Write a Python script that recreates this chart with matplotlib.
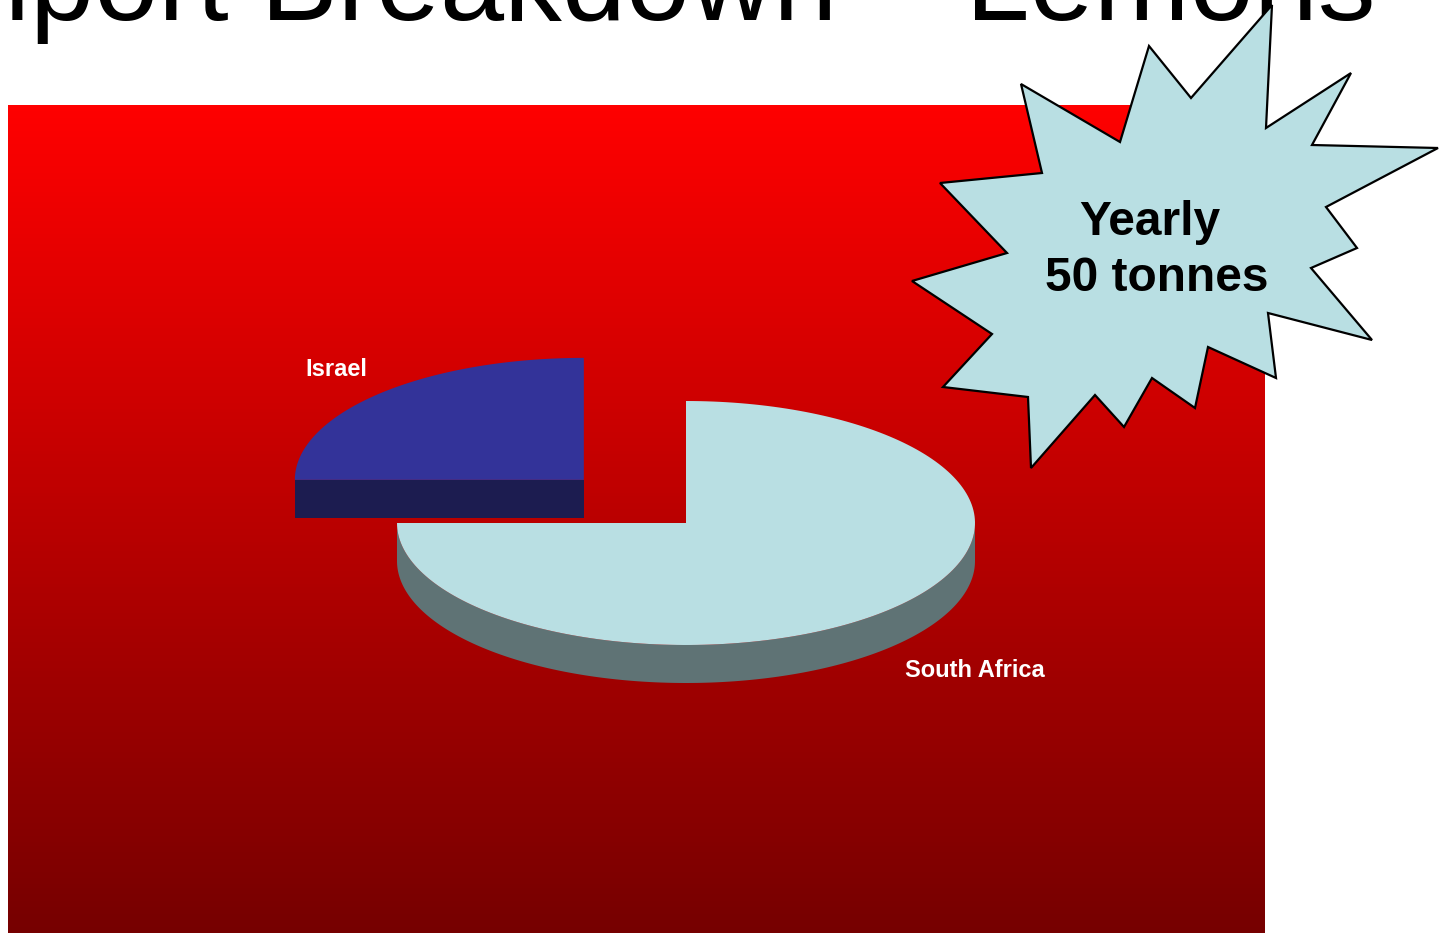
import numpy as np
import matplotlib
matplotlib.use("Agg")
import matplotlib.pyplot as plt
from matplotlib.patches import Polygon

# data
countries = ["South Africa", "Israel"]
shares = [75, 25]
top_colors = ["#B9DFE3", "#333399"]
side_colors = ["#5F7375", "#1C1C50"]
explode = [0.0, 0.5]

title = "Import Breakdown \u2013 Lemons"
burst_text = ["Yearly", "50 tonnes"]

# starburst outline (pixel coords of the slide)
burst_x = [1272, 1266, 1351, 1312, 1438, 1326, 1357, 1311, 1372, 1268, 1276, 1208,
           1195, 1152, 1124, 1095, 1031, 1028, 943, 992, 912, 1007, 940, 1042,
           1021, 1120, 1149, 1191]
burst_y = [5, 128, 73, 145, 148, 207, 248, 268, 340, 313, 378, 347,
           408, 378, 427, 395, 468, 397, 387, 334, 281, 253, 183, 173,
           84, 142, 46, 98]

W, H = 1441, 933
font = "Liberation Sans"

fig = plt.figure(figsize=(W / 100, H / 100), dpi=100)
ax = fig.add_axes([0, 0, 1, 1])

# red gradient plot area
grad = np.linspace(0, 1, 256)[:, None]
top_rgb = np.array([1.0, 0.0, 0.0])
bot_rgb = np.array([118 / 255, 0.0, 0.0])
img = top_rgb[None, None, :] * (1 - grad[:, :, None]) + bot_rgb[None, None, :] * grad[:, :, None]
ax.imshow(img, extent=(8, 1265, 933, 105), aspect="auto", zorder=0)

# 3d pie, slices go clockwise from 12 o'clock
cx, cy = 686, 523
rx, ry = 289, 122
depth = 38


def pt(x0, y0, t):
    return x0 + rx * np.cos(t), y0 - ry * np.sin(t)


angles = []
start = 90.0
for v in shares:
    sweep = 360.0 * v / sum(shares)
    angles.append((start - sweep, start))
    start -= sweep

# draw back slices first (higher on screen)
order = sorted(range(len(shares)), key=lambda i: -np.sin(np.radians(sum(angles[i]) / 2)) * explode[i])
for i in order:
    a1, a2 = angles[i]
    mid = np.radians((a1 + a2) / 2)
    ox = cx + explode[i] * rx * np.cos(mid)
    oy = cy - explode[i] * ry * np.sin(mid)
    t = np.radians(np.linspace(a1, a2, 200))
    xs, ys = pt(ox, oy, t)

    # flat cut faces facing the viewer
    for a, nrm in [(a1, a1 - 90), (a2, a2 + 90)]:
        if np.sin(np.radians(nrm)) < -1e-6:
            ex, ey = pt(ox, oy, np.radians(a))
            face = [(ox, oy), (ex, ey), (ex, ey + depth), (ox, oy + depth)]
            ax.add_patch(Polygon(face, closed=True, fc=side_colors[i], ec="none", zorder=2))

    # curved front side
    lo, hi = max(a1, -180), min(a2, 0)
    if hi > lo:
        ts = np.radians(np.linspace(lo, hi, 200))
        sx, sy = pt(ox, oy, ts)
        poly = list(zip(sx, sy)) + list(zip(sx[::-1], sy[::-1] + depth))
        ax.add_patch(Polygon(poly, closed=True, fc=side_colors[i], ec="none", zorder=2))

    top = [(ox, oy)] + list(zip(xs, ys))
    ax.add_patch(Polygon(top, closed=True, fc=top_colors[i], ec="none", zorder=3))

# slice labels
ax.text(905, 677, countries[0], color="white", fontsize=17, fontweight="bold",
        family=font, va="baseline", ha="left", zorder=4)
ax.text(305, 376, countries[1], color="white", fontsize=17, fontweight="bold",
        family=font, va="baseline", ha="left", zorder=4)

# title, mostly off the top of the slide
ax.text(1376, 20, title, fontsize=83, family=font, color="black",
        ha="right", va="baseline", zorder=1)

# starburst callout
ax.add_patch(Polygon(list(zip(burst_x, burst_y)), closed=True, fc="#B9DFE3",
                     ec="black", lw=1.6, zorder=5))
ax.text(1150, 235, burst_text[0], fontsize=34.5, fontweight="bold", family=font,
        ha="center", va="baseline", zorder=6)
ax.text(1157, 291, burst_text[1], fontsize=34.5, fontweight="bold", family=font,
        ha="center", va="baseline", zorder=6)

ax.set_xlim(0, W)
ax.set_ylim(H, 0)
ax.axis("off")

fig.savefig("out.png", dpi=100, facecolor="white")
